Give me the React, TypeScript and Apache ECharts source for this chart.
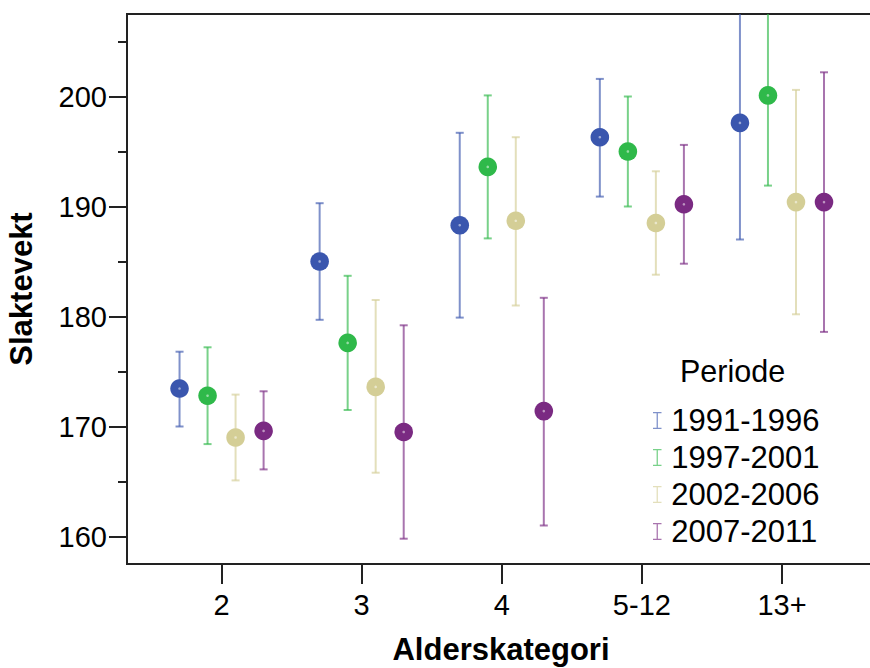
import React, { useEffect, useRef } from "react";
import * as echarts from "echarts";

const categories = ["2", "3", "4", "5-12", "13+"];
const periods = ["1991-1996", "1997-2001", "2002-2006", "2007-2011"];

const mean1991 = [173.45, 185.0, 188.3, 196.3, 197.6];
const low1991 = [170.0, 179.7, 179.9, 190.9, 187.0];
const high1991 = [176.8, 190.3, 196.7, 201.6, 208.2];

const mean1997 = [172.8, 177.6, 193.6, 195.0, 200.1];
const low1997 = [168.4, 171.5, 187.1, 190.0, 191.9];
const high1997 = [177.2, 183.7, 200.1, 200.0, 208.3];

const mean2002 = [169.0, 173.6, 188.7, 188.5, 190.4];
const low2002 = [165.1, 165.8, 181.0, 183.8, 180.2];
const high2002 = [172.9, 181.5, 196.3, 193.2, 200.6];

const mean2007 = [169.6, 169.5, 171.4, 190.2, 190.4];
const low2007 = [166.1, 159.8, 161.0, 184.8, 178.6];
const high2007 = [173.2, 179.2, 181.7, 195.6, 202.2];

const majorTicks = [160, 170, 180, 190, 200];
const minorTicks = [165, 175, 185, 195, 205];

const colors = ["#3A56AE", "#2FB94A", "#D4CE96", "#7A2A82"];
const offsets = [-0.3, -0.1, 0.1, 0.3];
const FONT = "'Liberation Sans', Arial, sans-serif";
const AXIS_COLOR = "#222";

const seriesData = [
  [mean1991, low1991, high1991],
  [mean1997, low1997, high1997],
  [mean2002, low2002, high2002],
  [mean2007, low2007, high2007],
];

export default function App() {
  const ref = useRef<HTMLDivElement>(null);
  useEffect(() => {
    if (!ref.current) return;
    const chart = echarts.init(ref.current, null, { renderer: "svg" });
    const series = seriesData.map((arr, si) => ({
      type: "custom",
      name: periods[si],
      clip: true,
      itemStyle: { color: colors[si] },
      data: categories.map((_, i) => [i + 1, arr[0][i], arr[1][i], arr[2][i]]),
      encode: { x: 0, y: [1, 2, 3] },
      renderItem: (params: any, api: any) => {
        const x = api.value(0) + offsets[si];
        const pm = api.coord([x, api.value(1)]);
        const pl = api.coord([x, api.value(2)]);
        const ph = api.coord([x, api.value(3)]);
        const c = colors[si];
        const bar = { stroke: c, lineWidth: 2, opacity: 0.65 };
        const cap = 4;
        return {
          type: "group",
          children: [
            { type: "line", shape: { x1: pm[0], y1: pl[1], x2: pm[0], y2: ph[1] }, style: bar },
            { type: "line", shape: { x1: pm[0] - cap, y1: pl[1], x2: pm[0] + cap, y2: pl[1] }, style: bar },
            { type: "line", shape: { x1: pm[0] - cap, y1: ph[1], x2: pm[0] + cap, y2: ph[1] }, style: bar },
            { type: "circle", shape: { cx: pm[0], cy: pm[1], r: 9.3 }, style: { fill: c } },
            { type: "circle", shape: { cx: pm[0], cy: pm[1], r: 1.3 }, style: { fill: "#fff", opacity: 0.5 } },
          ],
        };
      },
    }));

    chart.setOption({
      animation: false,
      backgroundColor: "#fff",
      grid: {
        left: 127,
        top: 14,
        right: -5,
        bottom: 104,
        show: true,
        borderColor: AXIS_COLOR,
        borderWidth: 2,
        containLabel: false,
        outerBoundsMode: "none",
      },
      xAxis: {
        type: "value",
        min: 0.325,
        max: 5.664,
        axisLine: { show: true, lineStyle: { color: AXIS_COLOR, width: 2 } },
        axisTick: { show: true, length: 20, customValues: [1, 2, 3, 4, 5], lineStyle: { color: AXIS_COLOR, width: 2 } },
        axisLabel: {
          customValues: [1, 2, 3, 4, 5],
          formatter: (v: number) => categories[Math.round(v) - 1] ?? "",
          fontSize: 29,
          color: "#000",
          fontFamily: FONT,
          margin: 26,
        },
        splitLine: { show: false },
        name: "Alderskategori",
        nameLocation: "middle",
        nameGap: 70,
        nameTextStyle: { fontSize: 31, fontWeight: "bold", color: "#000", fontFamily: FONT, lineHeight: 31 },
      },
      yAxis: [
        {
          type: "value",
          min: 157.5,
          max: 207.5,
          axisLine: { show: true, lineStyle: { color: AXIS_COLOR, width: 2 } },
          axisTick: { show: true, length: 18, customValues: majorTicks, lineStyle: { color: AXIS_COLOR, width: 2 } },
          axisLabel: {
            customValues: majorTicks,
            fontSize: 29,
            color: "#000",
            fontFamily: FONT,
            margin: 20,
          },
          splitLine: { show: false },
          name: "Slaktevekt",
          nameLocation: "middle",
          nameGap: 90,
          nameTextStyle: { fontSize: 31, fontWeight: "bold", color: "#000", fontFamily: FONT },
        },
        {
          type: "value",
          min: 157.5,
          max: 207.5,
          position: "left",
          axisLine: { show: false },
          axisTick: { show: true, length: 9, customValues: minorTicks, lineStyle: { color: AXIS_COLOR, width: 2 } },
          axisLabel: { show: false },
          splitLine: { show: false },
        },
      ],
      legend: {
        data: periods,
        orient: "vertical",
        left: 648,
        top: 400,
        itemWidth: 10,
        itemHeight: 17,
        itemGap: 6,
        icon: "path://M0,0H10V1.5H5.75V18.5H10V20H0V18.5H4.25V1.5H0Z",
        itemStyle: { opacity: 0.65 },
        textStyle: { fontSize: 31, color: "#000", fontFamily: FONT, padding: [0, 0, 0, 4] },
        selectedMode: false,
      },
      graphic: [
        {
          type: "text",
          left: 680,
          top: 355,
          style: { text: "Periode", fontSize: 30.5, fill: "#000", fontFamily: FONT },
        },
      ],
      series,
    });
    return () => chart.dispose();
  }, []);
  return <div ref={ref} style={{ width: 870, height: 668, position: "fixed", left: 0, top: 0 }} />;
}
